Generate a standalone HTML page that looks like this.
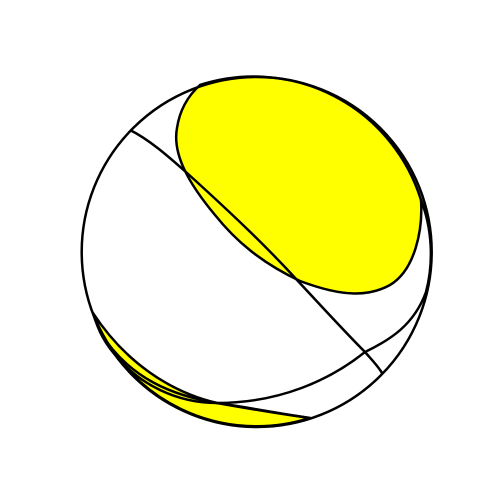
<!DOCTYPE html>
<html><head><meta charset="utf-8"><style>html,body{margin:0;padding:0;background:#fff;width:500px;height:500px;overflow:hidden}</style></head>
<body>
<svg width="500" height="500" viewBox="0 0 500 500">
<g fill="none" stroke="#000" stroke-width="2.5" stroke-linejoin="round">
<path fill="#ff0" d="M200,85 A175,175 0 0 1 421,200 C423,230 415,270 390,285 C370,296 345,298 300,281 C260,262 235,240 215,215 C190,185 172,155 177,128 C180,108 190,94 200,85 Z"/>
<path fill="#ff0" d="M93,313 A175,175 0 0 0 310,418 C280,414 245,408 217,403 C170,392 125,362 93,313 Z"/>
<path d="M130,130 C150,140 170,158 187,173 C230,212 265,245 297,280 C325,310 345,332 365,352 C372,360 378,366 382,373"/>
<path d="M421,200 C432,228 434,262 426,292 C414,325 390,340 365,352 C330,380 280,403 217,403 C175,403 140,383 120,360 C105,345 98,330 93,313"/>
<path d="M310,418 C270,412 240,406 217,403 C175,396 130,380 100,332"/>
<circle cx="256.7" cy="252" r="175"/>
</g>
</svg>
</body></html>
